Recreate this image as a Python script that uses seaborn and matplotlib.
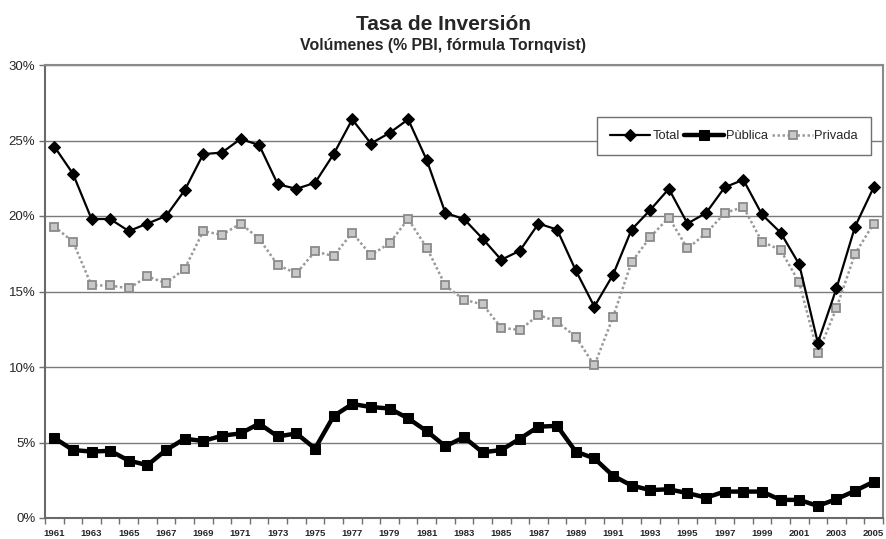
import numpy as np
import pandas as pd
import seaborn as sns
import matplotlib.pyplot as plt
from matplotlib.ticker import FuncFormatter, MultipleLocator

years = list(range(1961, 2006))

total = [24.6, 22.8, 19.8, 19.8, 19.0, 19.5, 20.0, 21.7, 24.1, 24.2,
         25.1, 24.7, 22.1, 21.8, 22.2, 24.1, 26.4, 24.8, 25.5, 26.4,
         23.7, 20.2, 19.8, 18.5, 17.1, 17.7, 19.5, 19.1, 16.4, 14.0,
         16.1, 19.1, 20.4, 21.8, 19.5, 20.2, 21.9, 22.4, 20.1, 18.9,
         16.8, 11.6, 15.2, 19.3, 21.9]

publica = [5.3, 4.5, 4.4, 4.45, 3.8, 3.5, 4.5, 5.25, 5.1, 5.45,
           5.6, 6.25, 5.4, 5.6, 4.6, 6.75, 7.55, 7.35, 7.25, 6.6,
           5.75, 4.75, 5.35, 4.35, 4.5, 5.25, 6.05, 6.1, 4.4, 3.95,
           2.8, 2.15, 1.85, 1.9, 1.65, 1.35, 1.75, 1.75, 1.75, 1.2,
           1.2, 0.8, 1.25, 1.8, 2.4]

privada = [19.3, 18.3, 15.4, 15.4, 15.2, 16.0, 15.55, 16.5, 19.0, 18.75,
           19.5, 18.5, 16.75, 16.2, 17.65, 17.35, 18.9, 17.4, 18.2, 19.8,
           17.9, 15.4, 14.45, 14.15, 12.6, 12.45, 13.45, 13.0, 12.0, 10.1,
           13.3, 16.95, 18.6, 19.9, 17.85, 18.85, 20.2, 20.6, 18.3, 17.75,
           15.6, 10.9, 13.9, 17.5, 19.5]

series_names = ['Total', 'Pùblica', 'Privada']

df = pd.DataFrame({'year': years, 'Total': total,
                   'Pùblica': publica, 'Privada': privada})

sns.set_style('white')
plt.rcParams['font.family'] = ['Liberation Sans', 'DejaVu Sans']

fig = plt.figure(figsize=(8.86, 5.39), dpi=100)
ax = fig.add_axes([45 / 886, 1 - 518 / 539, 838 / 886, 453 / 539])

sns.lineplot(data=df, x='year', y='Total', ax=ax, color='black', lw=1.6,
             marker='D', markersize=6.5, markeredgecolor='black',
             label=series_names[0], zorder=4)
sns.lineplot(data=df, x='year', y='Pùblica', ax=ax, color='black', lw=3.2,
             marker='s', markersize=7, markeredgecolor='black',
             label=series_names[1], zorder=4)
sns.lineplot(data=df, x='year', y='Privada', ax=ax, color='#9a9a9a', lw=1.8,
             linestyle=(0, (1, 1)), marker='s', markersize=5.5,
             markerfacecolor='#c8c8c8', markeredgecolor='#8a8a8a',
             markeredgewidth=1.3, label=series_names[2], zorder=3)

ax.set_xlim(1960.5, 2005.5)
ax.set_ylim(0, 30)
ax.yaxis.set_major_locator(MultipleLocator(5))
ax.yaxis.set_major_formatter(FuncFormatter(lambda v, p: f'{v:.0f}%'))
ax.set_xticks(years[::2])
ax.set_xticklabels([str(y) for y in years[::2]], fontsize=6.8,
                   fontweight='bold')
ax.set_xticks(np.arange(1960.5, 2006, 1), minor=True)
ax.tick_params(axis='x', which='major', length=0, pad=8)
ax.tick_params(axis='x', which='minor', length=4, width=1,
               color='#707070', bottom=True)
ax.tick_params(axis='y', length=4, width=1, color='#707070',
               labelsize=9.5, pad=3, left=True)
ax.set_xlabel('')
ax.set_ylabel('')

ax.grid(axis='y', color='#7a7a7a', lw=1)
ax.set_axisbelow(True)
for side in ['left', 'bottom']:
    ax.spines[side].set_color('#6a6a6a')
    ax.spines[side].set_linewidth(1.5)
for side in ['top', 'right']:
    ax.spines[side].set_color('#8a8a8a')
    ax.spines[side].set_linewidth(1.5)

leg = ax.legend(loc='upper right', bbox_to_anchor=(0.9857, 0.885),
                ncol=3, fontsize=9.3, frameon=True, fancybox=False,
                handlelength=3.1, handletextpad=0.15, columnspacing=0.35,
                borderpad=1.0, borderaxespad=0)
leg.get_frame().set_edgecolor('#707070')
leg.get_frame().set_linewidth(1)
leg.get_frame().set_facecolor('white')
leg.get_frame().set_alpha(1)

fig.text(0.5, 1 - 30 / 539, 'Tasa de Inversión', ha='center', va='baseline',
         fontsize=15, fontweight='bold')
fig.text(0.5, 1 - 50 / 539, 'Volúmenes (% PBI, fórmula Tornqvist)',
         ha='center', va='baseline', fontsize=11.4, fontweight='bold')

fig.savefig('out.png', dpi=100)
